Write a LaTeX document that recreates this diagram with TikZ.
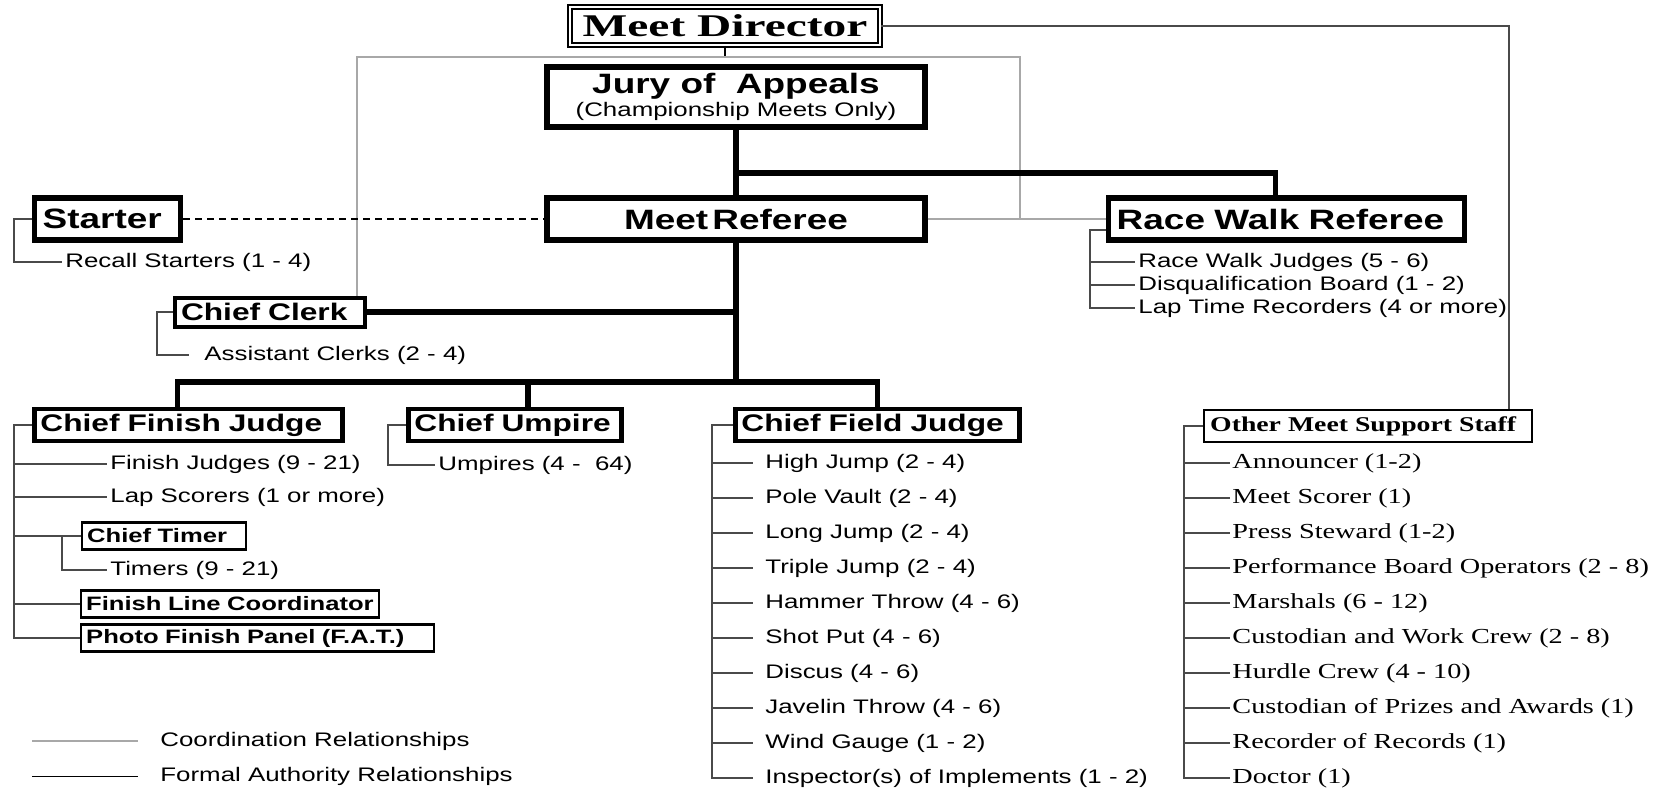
\documentclass[tikz,border=0pt]{standalone}
\usepackage{fontspec}
\setmainfont{Liberation Sans}
\newfontfamily\sansfam[FakeStretch=1.32]{Liberation Sans}
\newfontfamily\seriffam[FakeStretch=1.32]{Liberation Serif}
\newfontfamily\dirfam[FakeStretch=1.5]{Liberation Serif}
\usepackage{xcolor}
\definecolor{coordgray}{HTML}{A8A8A8}
\definecolor{tiegray}{HTML}{4A4A4A}

\newcommand{\directorfont}{\dirfam\bfseries\fontsize{15.8}{18}\selectfont}
\newcommand{\headfont}{\sansfam\bfseries\fontsize{14}{16}\selectfont}
\newcommand{\chieffont}{\sansfam\bfseries\fontsize{12}{14}\selectfont}
\newcommand{\subfont}{\sansfam\bfseries\fontsize{9.7}{11}\selectfont}
\newcommand{\itemfont}{\sansfam\mdseries\fontsize{9.8}{11.5}\selectfont}
\newcommand{\staffhead}{\seriffam\bfseries\fontsize{10.5}{12}\selectfont}
\newcommand{\staffitem}{\seriffam\mdseries\fontsize{10.7}{12.5}\selectfont}

\tikzset{
  dirbox/.style={draw, double, double distance=1.4pt, line width=0.8pt, font=\directorfont, inner sep=0pt},
  headbox/.style={draw, line width=2.7pt, font=\headfont, minimum height=21pt, inner xsep=4pt, inner ysep=0pt, align=left},
  chiefbox/.style={draw, line width=2.4pt, font=\chieffont, minimum height=16pt, inner xsep=3pt, inner ysep=0pt, align=left},
  subbox/.style={draw, line width=1.2pt, font=\subfont, minimum height=13.5pt, inner xsep=2.5pt, inner ysep=0pt, align=left},
  staffbox/.style={draw, line width=1.2pt, font=\staffhead, minimum height=16pt, inner xsep=3pt, inner ysep=0pt, align=left},
  item/.style={anchor=west, font=\itemfont, inner xsep=1.5pt, inner ysep=0pt},
  fitem/.style={item, inner xsep=6pt},
  sitem/.style={item, font=\staffitem, inner xsep=1pt},
  auth/.style={line width=2.6pt},
  tie/.style={tiegray, line width=0.6pt},
  coord/.style={coordgray, line width=0.6pt},
  dashline/.style={line width=0.8pt, dash pattern=on 3.2pt off 2.8pt}
}

\begin{document}
\begin{tikzpicture}[x=0.5pt, y=-0.5pt]
  \useasboundingbox (0,0) rectangle (1664,789);

  % Draw the top boxes
  \node (dir) [dirbox, minimum width=155pt, minimum height=19pt] at (725,26) {Meet Director};
  \node (jury) [headbox, align=center, minimum width=189pt, minimum height=30pt] at (736,97)
    {Jury of\ \ Appeals\\[-4.5pt]{\itemfont (Championship Meets Only)}};
  \node (mref) [headbox, minimum width=189pt] at (736,219) {Meet\hspace{0.15em}Referee};
  \node (starter) [headbox, anchor=west, text width=65pt] at (32,219) {Starter};
  \node (rwr) [headbox, anchor=west, text width=170pt] at (1106,219) {Race Walk Referee};
  \node (clerk) [chiefbox, anchor=west, text width=89pt, minimum height=14.5pt, line width=2pt] at (173,312) {Chief Clerk};

  % Draw the chiefs
  \node (cfj) [chiefbox, anchor=west, text width=148pt] at (32,425) {Chief Finish Judge};
  \node (cump) [chiefbox, anchor=west, text width=100.5pt] at (406,425) {Chief Umpire};
  \node (cfield) [chiefbox, anchor=west, text width=136pt] at (733,425) {Chief Field Judge};
  \node (other) [staffbox, anchor=west, text width=158pt] at (1203,426) {Other Meet Support Staff};

  % Draw the finish judge group
  \node (fj) [item] at (107,464) {Finish Judges (9 - 21)};
  \node (ls) [item] at (107,497) {Lap Scorers (1 or more)};
  \node (ctimer) [subbox, anchor=west, text width=77pt] at (81,536) {Chief Timer};
  \node (tm) [item] at (107,570) {Timers (9 - 21)};
  \node (flc) [subbox, anchor=west, text width=144pt] at (80,604) {Finish Line Coordinator};
  \node (pfp) [subbox, anchor=west, text width=171.5pt] at (80,638) {Photo Finish Panel (F.A.T.)};

  % Draw the single staff lines
  \node (rs) [item] at (62,262) {Recall Starters (1 - 4)};
  \node (ac) [item, inner xsep=7.5pt] at (189,355) {Assistant Clerks (2 - 4)};
  \node (um) [item] at (435,465) {Umpires (4 -\ \ 64)};
  \node (rwj) [item] at (1135,262) {Race Walk Judges (5 - 6)};
  \node (dqb) [item] at (1135,285) {Disqualification Board (1 - 2)};
  \node (ltr) [item] at (1135,308) {Lap Time Recorders (4 or more)};

  % Draw the field events and support staff
  \foreach \nm/\txt [count=\i from 0] in {hj/High Jump (2 - 4), pv/Pole Vault (2 - 4),
      lj/Long Jump (2 - 4), tj/Triple Jump (2 - 4), ht/Hammer Throw (4 - 6),
      sp/Shot Put (4 - 6), dc/Discus (4 - 6), jt/Javelin Throw (4 - 6),
      wg/Wind Gauge (1 - 2), ii/Inspector(s) of Implements (1 - 2)}
    \node (\nm) [fitem] at (753,463+35*\i) {\txt};
  \foreach \nm/\txt [count=\i from 0] in {ann/Announcer (1-2), msc/Meet Scorer (1),
      psw/Press Steward (1-2), pbo/Performance Board Operators (2 - 8),
      mar/Marshals (6 - 12), cwc/Custodian and Work Crew (2 - 8),
      hcr/Hurdle Crew (4 - 10), cpa/Custodian of Prizes and Awards (1),
      ror/Recorder of Records (1), doc/Doctor (1)}
    \node (\nm) [sitem] at (1230,463+35*\i) {\txt};

  % Bracket positions
  \coordinate (sb) at (14,0);
  \coordinate (kb) at (157,0);
  \coordinate (rb) at (1090,0);
  \coordinate (fjb) at (14,0);
  \coordinate (tb) at (62,0);
  \coordinate (ub) at (388,0);
  \coordinate (fb) at (712,0);
  \coordinate (ob) at (1184,0);
  \coordinate (od) at (1509,0);

  % Draw coordination lines
  \coordinate (cl) at (357,57);
  \coordinate (cr) at (1020,57);
  \draw[line width=1pt] (dir.south) -- (dir.south |- cl);
  \draw[coord] (clerk.north -| cl) -- (cl) -- (cr) -- (cr |- mref.east);
  \draw[coord] (mref.east) -- (rwr.west);

  % Draw formal authority lines
  \coordinate (rj) at (736,173);
  \coordinate (bar) at (736,382);
  \draw[auth] (jury.south) -- (mref.north);
  \draw[auth] (rj) -| ([xshift=-5.5pt]rwr.north);
  \draw[auth] (mref.south) -- (bar);
  \draw[auth] (clerk.east) -- (clerk.east -| bar);
  \draw[auth] ([xshift=-5.5pt]cfj.north) |- (bar) -| (cfield.north);
  \draw[auth] ([xshift=6.5pt]cump.north) -- ([xshift=6.5pt]cump.north |- bar);
  \draw[dashline] (starter.east) -- (mref.west);
  \draw[tie] (dir.east) -| (od |- other.north);

  % Draw the brackets
  \draw[tie] (starter.west) -| (sb |- rs.west) -- (rs.west);
  \draw[tie] (clerk.west) -| (kb |- ac.west) -- (ac.west);
  \draw[tie] ([yshift=-5.5pt]rwr.west) -| (rb |- ltr.west) -- (ltr.west);
  \foreach \nm in {rwj,dqb} \draw[tie] (rb |- \nm.west) -- (\nm.west);
  \draw[tie] (cfj.west) -| (fjb |- pfp.west) -- (pfp.west);
  \foreach \nm in {fj,ls,ctimer,flc} \draw[tie] (fjb |- \nm.west) -- (\nm.west);
  \draw[tie] (tb |- ctimer.west) |- (tm.west);
  \draw[tie] (cump.west) -| (ub |- um.west) -- (um.west);
  \draw[tie] (cfield.west) -| (fb |- ii.west) -- (ii.west);
  \foreach \nm in {hj,pv,lj,tj,ht,sp,dc,jt,wg} \draw[tie] (fb |- \nm.west) -- (\nm.west);
  \draw[tie] (other.west) -| (ob |- doc.west) -- (doc.west);
  \foreach \nm in {ann,msc,psw,pbo,mar,cwc,hcr,cpa,ror} \draw[tie] (ob |- \nm.west) -- (\nm.west);

  % Draw the legend
  \coordinate (lga) at (32,741);
  \coordinate (lgb) at (138,741);
  \coordinate (lfa) at (32,776);
  \coordinate (lfb) at (138,776);
  \draw[coord] (lga) -- (lgb);
  \draw[tie, black, line width=0.5pt] (lfa) -- (lfb);
  \node (lgt) [item] at (157,741) {Coordination Relationships};
  \node (lft) [item] at (157,776) {Formal Authority Relationships};
\end{tikzpicture}
\end{document}
